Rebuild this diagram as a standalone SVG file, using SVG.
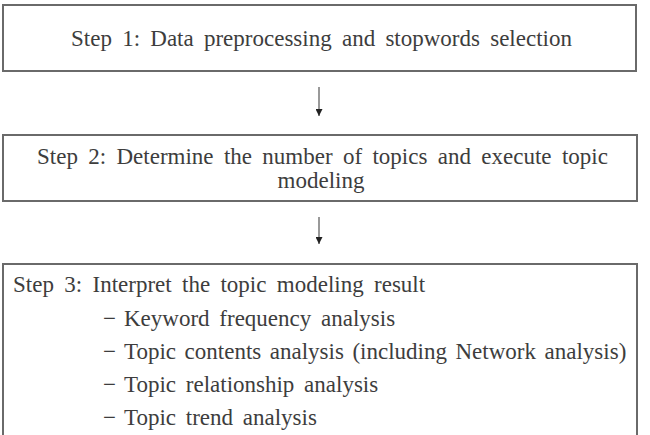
<svg xmlns="http://www.w3.org/2000/svg" width="650" height="435" viewBox="0 0 650 435">
<style>
.box{fill:#fff;stroke:#6a6a6a;stroke-width:2}
.t{font-family:"Liberation Serif","Noto Sans CJK KR",serif;font-size:23px;fill:#3d3d3d;word-spacing:4px}
.c{stroke:#555;stroke-width:1.2;fill:none}
</style>
<defs>
<marker id="ah" viewBox="0 0 10 10" refX="10" refY="5" markerWidth="7" markerHeight="7" markerUnits="userSpaceOnUse" orient="auto">
<path d="M0,0 L10,5 L0,10 Z" fill="#222"/>
</marker>
</defs>
<rect width="650" height="435" fill="#fff"/>
<g id="step1">
<rect class="box" x="3" y="5" width="633" height="66"/>
<text class="t" x="71" y="46" style="word-spacing:4.5px">Step 1: Data preprocessing and stopwords selection</text>
</g>
<g id="step2">
<rect class="box" x="3" y="135" width="634" height="66"/>
<text class="t" x="37" y="164" style="word-spacing:4.6px">Step 2: Determine the number of topics and execute topic</text>
<text class="t" x="321" y="188" text-anchor="middle">modeling</text>
</g>
<g id="step3">
<rect class="box" x="3" y="264" width="634" height="180"/>
<text class="t" x="13" y="292" style="word-spacing:4.6px">Step 3: Interpret the topic modeling result</text>
<text class="t" x="103" y="326">−<tspan dx="8">Keyword frequency analysis</tspan></text>
<text class="t" x="103" y="359" style="word-spacing:2.8px">−<tspan dx="8">Topic contents analysis (including Network analysis)</tspan></text>
<text class="t" x="103" y="392">−<tspan dx="8">Topic relationship analysis</tspan></text>
<text class="t" x="103" y="425">−<tspan dx="8">Topic trend analysis</tspan></text>
</g>
<g id="connectors">
<line class="c" x1="319" y1="87" x2="319" y2="116" marker-end="url(#ah)"/>
<line class="c" x1="319" y1="217" x2="319" y2="244" marker-end="url(#ah)"/>
</g>
</svg>
